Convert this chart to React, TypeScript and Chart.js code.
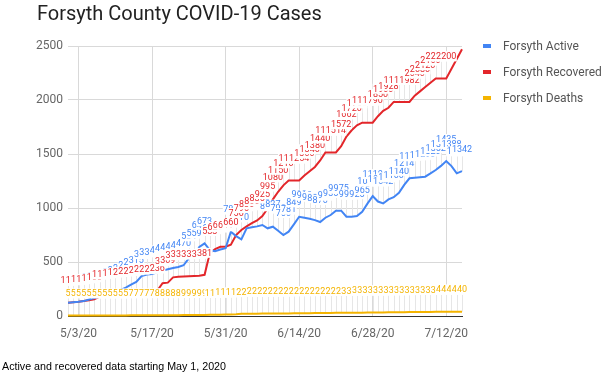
import React, { useEffect, useRef } from 'react';
import { Chart, registerables } from 'chart.js';

Chart.register(...registerables);

const dates = [
  '5/1/20','5/2/20','5/3/20','5/4/20','5/5/20','5/6/20','5/7/20','5/8/20','5/9/20','5/10/20',
  '5/11/20','5/12/20','5/13/20','5/14/20','5/15/20','5/16/20','5/17/20','5/18/20','5/19/20','5/20/20',
  '5/21/20','5/22/20','5/23/20','5/24/20','5/25/20','5/26/20','5/27/20','5/28/20','5/29/20','5/30/20',
  '5/31/20','6/1/20','6/2/20','6/3/20','6/4/20','6/5/20','6/6/20','6/7/20','6/8/20','6/9/20',
  '6/10/20','6/11/20','6/12/20','6/13/20','6/14/20','6/15/20','6/16/20','6/17/20','6/18/20','6/19/20',
  '6/20/20','6/21/20','6/22/20','6/23/20','6/24/20','6/25/20','6/26/20','6/27/20','6/28/20','6/29/20',
  '6/30/20','7/1/20','7/2/20','7/3/20','7/4/20','7/5/20','7/6/20','7/7/20','7/8/20','7/9/20',
  '7/10/20','7/11/20','7/12/20','7/13/20','7/14/20','7/15/20',
];

const tickLabels = ['5/3/20', '5/17/20', '5/31/20', '6/14/20', '6/28/20', '7/12/20'];
const yTicks = [0, 500, 1000, 1500, 2000, 2500];

const activeCases = [
  123, 128, 132, 138, 152, 166, 182, 195, 206, 222,
  241, 262, 290, 315, 370, 385, 389, 404, 420, 432,
  445, 454, 470, 534, 559, 640, 673, 611, 600, 615,
  627, 781, 740, 710, 812, 821, 830, 843, 812, 827,
  790, 750, 781, 849, 919, 910, 900, 888, 870, 910,
  935, 975, 975, 920, 920, 925, 965, 1040, 1110, 1060,
  1042, 1080, 1100, 1140, 1214, 1275, 1280, 1285, 1290, 1320,
  1352, 1390, 1435, 1388, 1321, 1342,
];

const recoveredCases = [
  123, 128, 132, 138, 145, 155, 180, 186, 192, 198,
  203, 208, 213, 220, 225, 230, 233, 236, 303, 309,
  358, 364, 366, 368, 370, 372, 381, 583, 620, 641,
  641, 660, 750, 796, 830, 860, 885, 925, 995, 1080,
  1150, 1210, 1254, 1254, 1254, 1300, 1340, 1380, 1440, 1514,
  1514, 1514, 1572, 1662, 1720, 1765, 1790, 1790, 1790, 1850,
  1900, 1928, 1982, 1982, 1982, 1982, 2040, 2080, 2120, 2160,
  2200, 2200, 2200, 2290, 2380, 2469,
];

const deaths = [
  5, 5, 5, 5, 5, 5, 5, 5, 5, 5,
  5, 5, 7, 7, 7, 7, 7, 8, 8, 8,
  8, 8, 9, 9, 9, 9, 9, 11, 11, 12,
  13, 14, 16, 20, 20, 21, 21, 22, 22, 23,
  23, 24, 24, 25, 25, 26, 26, 27, 27, 28,
  28, 29, 29, 30, 30, 31, 31, 32, 32, 33,
  33, 34, 34, 35, 35, 36, 36, 37, 37, 38,
  39, 40, 40, 40, 40, 40,
];

const seriesNames = ['Forsyth Active', 'Forsyth Recovered', 'Forsyth Deaths'];
const seriesColors = ['#4285f4', '#e3262a', '#f4b400'];

const LABEL_OFFSET = 22;

const pointLabelPlugin = {
  id: 'pointLabels',
  beforeDatasetsDraw(chart: any) {
    const ctx = chart.ctx;
    ctx.save();
    ctx.strokeStyle = '#e6e6e6';
    ctx.lineWidth = 1;
    chart.data.datasets.forEach((_ds: any, di: number) => {
      const meta = chart.getDatasetMeta(di);
      meta.data.forEach((pt: any) => {
        const top = pt.y - LABEL_OFFSET + 5;
        if (pt.y - LABEL_OFFSET - 5 < chart.chartArea.top) return;
        const x = Math.round(pt.x) + 0.5;
        ctx.beginPath();
        ctx.moveTo(x, top);
        ctx.lineTo(x, pt.y);
        ctx.stroke();
      });
    });
    ctx.restore();
  },
  afterDatasetsDraw(chart: any) {
    const ctx = chart.ctx;
    ctx.save();
    ctx.font = '9px Roboto';
    ctx.textAlign = 'center';
    ctx.textBaseline = 'middle';
    chart.data.datasets.forEach((ds: any, di: number) => {
      const meta = chart.getDatasetMeta(di);
      meta.data.forEach((pt: any, i: number) => {
        const cy = pt.y - LABEL_OFFSET;
        if (cy - 5 < chart.chartArea.top) return;
        const text = String(ds.data[i]);
        const w = ctx.measureText(text).width;
        ctx.fillStyle = '#ffffff';
        ctx.fillRect(pt.x - w / 2 - 0.5, cy - 5, w + 1, 10);
        ctx.fillStyle = ds.borderColor;
        ctx.fillText(text, pt.x, cy + 0.5);
      });
    });
    ctx.restore();
  },
};

export default function App() {
  const canvasRef = useRef<HTMLCanvasElement | null>(null);

  useEffect(() => {
    const canvas = canvasRef.current;
    if (!canvas) return;
    const chart = new Chart(canvas, {
      type: 'line',
      data: {
        labels: dates,
        datasets: [activeCases, recoveredCases, deaths].map((arr, k) => ({
          label: seriesNames[k],
          data: arr,
          borderColor: seriesColors[k],
          backgroundColor: seriesColors[k],
          borderWidth: 2,
          pointRadius: 0,
          pointHoverRadius: 0,
          tension: 0,
          clip: false as any,
        })),
      },
      options: {
        responsive: false,
        animation: false,
        events: [],
        layout: { padding: { top: 46, right: 153, bottom: 0, left: 0 } },
        plugins: {
          legend: { display: false },
          title: { display: false },
          tooltip: { enabled: false },
        },
        scales: {
          x: {
            type: 'category',
            afterFit: (s: any) => { s.height = 58; },
            afterBuildTicks: (s: any) => {
              s.ticks = s.ticks.filter((t: any) => tickLabels.includes(dates[t.value]));
            },
            ticks: {
              autoSkip: false,
              maxRotation: 0,
              minRotation: 0,
              padding: 11,
              color: '#666666',
              font: { family: 'Roboto', size: 12 },
              callback: (v: any) => dates[v],
            },
            grid: { color: '#d9d9d9', drawTicks: false },
            border: { display: true, color: '#333333', width: 1 },
          },
          y: {
            min: 0,
            max: 2500,
            afterFit: (s: any) => { s.width = 68; },
            afterBuildTicks: (s: any) => {
              s.ticks = yTicks.map((v) => ({ value: v }));
            },
            ticks: {
              padding: 5,
              color: '#666666',
              font: { family: 'Roboto', size: 12 },
              callback: (v: any) => String(v),
            },
            grid: { color: '#d9d9d9', drawTicks: false },
            border: { display: false },
          },
        },
      },
      plugins: [pointLabelPlugin],
    });
    return () => chart.destroy();
  }, []);

  const legendTops = [46, 72, 98];

  return (
    <div style={{ position: 'absolute', left: 0, top: 0, width: 615, height: 374, background: '#ffffff', overflow: 'hidden' }}>
      <canvas ref={canvasRef} width={615} height={374} style={{ position: 'absolute', left: 0, top: 0, width: 615, height: 374 }} />
      <div style={{ position: 'absolute', left: 37, top: 1, font: '20px Roboto', lineHeight: '24px', color: '#222222', whiteSpace: 'nowrap' }}>
        Forsyth County COVID-19 Cases
      </div>
      {seriesNames.map((name, k) => (
        <div key={name} style={{ position: 'absolute', left: 483, top: legendTops[k] - 8, height: 16, whiteSpace: 'nowrap' }}>
          <div style={{ position: 'absolute', left: 0, top: 6, width: 8, height: 4, background: seriesColors[k] }} />
          <div style={{ position: 'absolute', left: 20, top: 0, font: '12px Roboto', lineHeight: '16px', color: '#555555' }}>{name}</div>
        </div>
      ))}
      <div style={{ position: 'absolute', left: 2, top: 359, font: '10.7px "Liberation Sans", Arial, sans-serif', lineHeight: '14px', color: '#000000', whiteSpace: 'nowrap' }}>
        Active and recovered data starting May 1, 2020
      </div>
    </div>
  );
}
